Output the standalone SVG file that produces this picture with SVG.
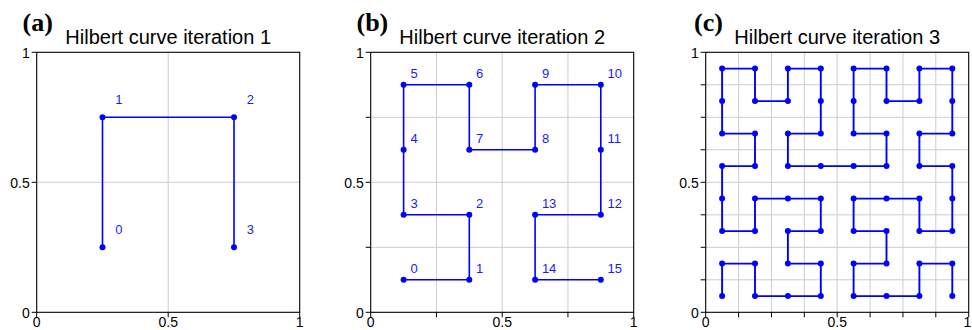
<svg xmlns="http://www.w3.org/2000/svg" width="972" height="330" viewBox="0 0 972 330">
<style>
.bg{fill:#ffffff}
.grid{stroke:#cccccc;stroke-width:1;fill:none}
.axis{stroke:#000000;stroke-width:1.1;fill:none}
.tick{stroke:#000000;stroke-width:1}
.tl{font-family:"Liberation Sans",Arial,sans-serif;font-size:14px;fill:#000000}
.tly{text-anchor:end}
.tlx{text-anchor:middle}
.title{font-family:"Liberation Sans",Arial,sans-serif;font-size:20px;fill:#000000;text-anchor:middle}
.plab{font-family:"Liberation Serif","Times New Roman",serif;font-size:26px;font-weight:bold;fill:#000000}
.curve{stroke:#0000ff;stroke-width:1.6;fill:none;stroke-linejoin:round}
.curve3{stroke:#0000ff;stroke-width:1.9;fill:none;stroke-linejoin:round}
.pt{fill:#0000ff}
.nl{font-family:"Liberation Sans",Arial,sans-serif;font-size:13px;fill:#1a1aff}
</style>
<rect class="bg" x="0" y="0" width="972" height="330"/>

<!-- Panel (a) -->
<g id="panel-a">
<text class="plab" x="22.5" y="31">(a)</text>
<text class="title" x="168.2" y="44">Hilbert curve iteration 1</text>
<g class="grid">
<line x1="168.2" y1="52.3" x2="168.2" y2="312.3"/>
<line x1="36.7" y1="182.3" x2="299.7" y2="182.3"/>
</g>
<rect class="axis" x="36.7" y="52.3" width="263" height="260"/>
<g class="tick">
<line x1="36.7" y1="312.3" x2="36.7" y2="317.3"/>
<line x1="168.2" y1="312.3" x2="168.2" y2="317.3"/>
<line x1="299.7" y1="312.3" x2="299.7" y2="317.3"/>
<line x1="31.7" y1="312.3" x2="36.7" y2="312.3"/>
<line x1="31.7" y1="182.3" x2="36.7" y2="182.3"/>
<line x1="31.7" y1="52.3" x2="36.7" y2="52.3"/>
</g>
<text class="tl tlx" x="36.7" y="327">0</text>
<text class="tl tlx" x="168.2" y="327">0.5</text>
<text class="tl tlx" x="299.7" y="327">1</text>
<text class="tl tly" x="29.7" y="317.8">0</text>
<text class="tl tly" x="29.7" y="187.8">0.5</text>
<text class="tl tly" x="29.7" y="57.8">1</text>
<g id="connectors-a">
<polyline class="curve" points="102.5,247.3 102.5,117.3 234,117.3 234,247.3"/>
</g>
<g id="a-n0"><circle class="pt" cx="102.5" cy="247.3" r="3"/><text class="nl" x="115.3" y="234.3">0</text></g>
<g id="a-n1"><circle class="pt" cx="102.5" cy="117.3" r="3"/><text class="nl" x="115.3" y="104.3">1</text></g>
<g id="a-n2"><circle class="pt" cx="234" cy="117.3" r="3"/><text class="nl" x="246.8" y="104.3">2</text></g>
<g id="a-n3"><circle class="pt" cx="234" cy="247.3" r="3"/><text class="nl" x="246.8" y="234.3">3</text></g>
</g>

<!-- Panel (b) -->
<g id="panel-b">
<text class="plab" x="356.5" y="31">(b)</text>
<text class="title" x="502.2" y="44">Hilbert curve iteration 2</text>
<g class="grid">
<line x1="436.45" y1="52.3" x2="436.45" y2="312.3"/>
<line x1="502.2" y1="52.3" x2="502.2" y2="312.3"/>
<line x1="567.95" y1="52.3" x2="567.95" y2="312.3"/>
<line x1="370.7" y1="247.3" x2="633.7" y2="247.3"/>
<line x1="370.7" y1="182.3" x2="633.7" y2="182.3"/>
<line x1="370.7" y1="117.3" x2="633.7" y2="117.3"/>
</g>
<rect class="axis" x="370.7" y="52.3" width="263" height="260"/>
<g class="tick">
<line x1="370.7" y1="312.3" x2="370.7" y2="317.3"/>
<line x1="436.45" y1="312.3" x2="436.45" y2="317.3"/>
<line x1="502.2" y1="312.3" x2="502.2" y2="317.3"/>
<line x1="567.95" y1="312.3" x2="567.95" y2="317.3"/>
<line x1="633.7" y1="312.3" x2="633.7" y2="317.3"/>
<line x1="365.7" y1="312.3" x2="370.7" y2="312.3"/>
<line x1="365.7" y1="247.3" x2="370.7" y2="247.3"/>
<line x1="365.7" y1="182.3" x2="370.7" y2="182.3"/>
<line x1="365.7" y1="117.3" x2="370.7" y2="117.3"/>
<line x1="365.7" y1="52.3" x2="370.7" y2="52.3"/>
</g>
<text class="tl tlx" x="370.7" y="327">0</text>
<text class="tl tlx" x="502.2" y="327">0.5</text>
<text class="tl tlx" x="633.7" y="327">1</text>
<text class="tl tly" x="363.7" y="317.8">0</text>
<text class="tl tly" x="363.7" y="187.8">0.5</text>
<text class="tl tly" x="363.7" y="57.8">1</text>
<g id="connectors-b">
<polyline class="curve" points="403.6,279.8 469.3,279.8 469.3,214.8 403.6,214.8 403.6,149.8 403.6,84.8 469.3,84.8 469.3,149.8 535.1,149.8 535.1,84.8 600.8,84.8 600.8,149.8 600.8,214.8 535.1,214.8 535.1,279.8 600.8,279.8"/>
</g>
<g id="b-n0"><circle class="pt" cx="403.6" cy="279.8" r="3"/><text class="nl" x="410.4" y="273.3">0</text></g>
<g id="b-n1"><circle class="pt" cx="469.3" cy="279.8" r="3"/><text class="nl" x="476.1" y="273.3">1</text></g>
<g id="b-n2"><circle class="pt" cx="469.3" cy="214.8" r="3"/><text class="nl" x="476.1" y="208.3">2</text></g>
<g id="b-n3"><circle class="pt" cx="403.6" cy="214.8" r="3"/><text class="nl" x="410.4" y="208.3">3</text></g>
<g id="b-n4"><circle class="pt" cx="403.6" cy="149.8" r="3"/><text class="nl" x="410.4" y="143.3">4</text></g>
<g id="b-n5"><circle class="pt" cx="403.6" cy="84.8" r="3"/><text class="nl" x="410.4" y="78.3">5</text></g>
<g id="b-n6"><circle class="pt" cx="469.3" cy="84.8" r="3"/><text class="nl" x="476.1" y="78.3">6</text></g>
<g id="b-n7"><circle class="pt" cx="469.3" cy="149.8" r="3"/><text class="nl" x="476.1" y="143.3">7</text></g>
<g id="b-n8"><circle class="pt" cx="535.1" cy="149.8" r="3"/><text class="nl" x="541.9" y="143.3">8</text></g>
<g id="b-n9"><circle class="pt" cx="535.1" cy="84.8" r="3"/><text class="nl" x="541.9" y="78.3">9</text></g>
<g id="b-n10"><circle class="pt" cx="600.8" cy="84.8" r="3"/><text class="nl" x="607.6" y="78.3">10</text></g>
<g id="b-n11"><circle class="pt" cx="600.8" cy="149.8" r="3"/><text class="nl" x="607.6" y="143.3">11</text></g>
<g id="b-n12"><circle class="pt" cx="600.8" cy="214.8" r="3"/><text class="nl" x="607.6" y="208.3">12</text></g>
<g id="b-n13"><circle class="pt" cx="535.1" cy="214.8" r="3"/><text class="nl" x="541.9" y="208.3">13</text></g>
<g id="b-n14"><circle class="pt" cx="535.1" cy="279.8" r="3"/><text class="nl" x="541.9" y="273.3">14</text></g>
<g id="b-n15"><circle class="pt" cx="600.8" cy="279.8" r="3"/><text class="nl" x="607.6" y="273.3">15</text></g>
</g>

<!-- Panel (c) -->
<g id="panel-c">
<text class="plab" x="694" y="31">(c)</text>
<text class="title" x="837.2" y="44">Hilbert curve iteration 3</text>
<g class="grid">
<line x1="738.6" y1="52.3" x2="738.6" y2="312.3"/>
<line x1="771.45" y1="52.3" x2="771.45" y2="312.3"/>
<line x1="804.3" y1="52.3" x2="804.3" y2="312.3"/>
<line x1="837.2" y1="52.3" x2="837.2" y2="312.3"/>
<line x1="870.1" y1="52.3" x2="870.1" y2="312.3"/>
<line x1="902.95" y1="52.3" x2="902.95" y2="312.3"/>
<line x1="935.8" y1="52.3" x2="935.8" y2="312.3"/>
<line x1="705.7" y1="279.8" x2="968.7" y2="279.8"/>
<line x1="705.7" y1="247.3" x2="968.7" y2="247.3"/>
<line x1="705.7" y1="214.8" x2="968.7" y2="214.8"/>
<line x1="705.7" y1="182.3" x2="968.7" y2="182.3"/>
<line x1="705.7" y1="149.8" x2="968.7" y2="149.8"/>
<line x1="705.7" y1="117.3" x2="968.7" y2="117.3"/>
<line x1="705.7" y1="84.8" x2="968.7" y2="84.8"/>
</g>
<rect class="axis" x="705.7" y="52.3" width="263" height="260"/>
<g class="tick">
<line x1="705.7" y1="312.3" x2="705.7" y2="317.3"/>
<line x1="738.6" y1="312.3" x2="738.6" y2="317.3"/>
<line x1="771.45" y1="312.3" x2="771.45" y2="317.3"/>
<line x1="804.3" y1="312.3" x2="804.3" y2="317.3"/>
<line x1="837.2" y1="312.3" x2="837.2" y2="317.3"/>
<line x1="870.1" y1="312.3" x2="870.1" y2="317.3"/>
<line x1="902.95" y1="312.3" x2="902.95" y2="317.3"/>
<line x1="935.8" y1="312.3" x2="935.8" y2="317.3"/>
<line x1="968.7" y1="312.3" x2="968.7" y2="317.3"/>
<line x1="700.7" y1="312.3" x2="705.7" y2="312.3"/>
<line x1="700.7" y1="279.8" x2="705.7" y2="279.8"/>
<line x1="700.7" y1="247.3" x2="705.7" y2="247.3"/>
<line x1="700.7" y1="214.8" x2="705.7" y2="214.8"/>
<line x1="700.7" y1="182.3" x2="705.7" y2="182.3"/>
<line x1="700.7" y1="149.8" x2="705.7" y2="149.8"/>
<line x1="700.7" y1="117.3" x2="705.7" y2="117.3"/>
<line x1="700.7" y1="84.8" x2="705.7" y2="84.8"/>
<line x1="700.7" y1="52.3" x2="705.7" y2="52.3"/>
</g>
<text class="tl tlx" x="705.7" y="327">0</text>
<text class="tl tlx" x="837.2" y="327">0.5</text>
<text class="tl tlx" x="967.5" y="327">1</text>
<text class="tl tly" x="698.7" y="317.8">0</text>
<text class="tl tly" x="698.7" y="187.8">0.5</text>
<text class="tl tly" x="698.7" y="57.8">1</text>
<g id="connectors-c">
<polyline class="curve3" points="722.1,296.1 722.1,263.6 755,263.6 755,296.1 787.9,296.1 820.8,296.1 820.8,263.6 787.9,263.6 787.9,231.1 820.8,231.1 820.8,198.6 787.9,198.6 755,198.6 755,231.1 722.1,231.1 722.1,198.6 722.1,166.1 755,166.1 755,133.6 722.1,133.6 722.1,101.1 722.1,68.6 755,68.6 755,101.1 787.9,101.1 787.9,68.6 820.8,68.6 820.8,101.1 820.8,133.6 787.9,133.6 787.9,166.1 820.8,166.1 853.6,166.1 886.5,166.1 886.5,133.6 853.6,133.6 853.6,101.1 853.6,68.6 886.5,68.6 886.5,101.1 919.4,101.1 919.4,68.6 952.3,68.6 952.3,101.1 952.3,133.6 919.4,133.6 919.4,166.1 952.3,166.1 952.3,198.6 952.3,231.1 919.4,231.1 919.4,198.6 886.5,198.6 853.6,198.6 853.6,231.1 886.5,231.1 886.5,263.6 853.6,263.6 853.6,296.1 886.5,296.1 919.4,296.1 919.4,263.6 952.3,263.6 952.3,296.1"/>
</g>
<g id="c-points" class="pt">
<circle cx="722.1" cy="296.1" r="3"/><circle cx="722.1" cy="263.6" r="3"/><circle cx="755" cy="263.6" r="3"/><circle cx="755" cy="296.1" r="3"/>
<circle cx="787.9" cy="296.1" r="3"/><circle cx="820.8" cy="296.1" r="3"/><circle cx="820.8" cy="263.6" r="3"/><circle cx="787.9" cy="263.6" r="3"/>
<circle cx="787.9" cy="231.1" r="3"/><circle cx="820.8" cy="231.1" r="3"/><circle cx="820.8" cy="198.6" r="3"/><circle cx="787.9" cy="198.6" r="3"/>
<circle cx="755" cy="198.6" r="3"/><circle cx="755" cy="231.1" r="3"/><circle cx="722.1" cy="231.1" r="3"/><circle cx="722.1" cy="198.6" r="3"/>
<circle cx="722.1" cy="166.1" r="3"/><circle cx="755" cy="166.1" r="3"/><circle cx="755" cy="133.6" r="3"/><circle cx="722.1" cy="133.6" r="3"/>
<circle cx="722.1" cy="101.1" r="3"/><circle cx="722.1" cy="68.6" r="3"/><circle cx="755" cy="68.6" r="3"/><circle cx="755" cy="101.1" r="3"/>
<circle cx="787.9" cy="101.1" r="3"/><circle cx="787.9" cy="68.6" r="3"/><circle cx="820.8" cy="68.6" r="3"/><circle cx="820.8" cy="101.1" r="3"/>
<circle cx="820.8" cy="133.6" r="3"/><circle cx="787.9" cy="133.6" r="3"/><circle cx="787.9" cy="166.1" r="3"/><circle cx="820.8" cy="166.1" r="3"/>
<circle cx="853.6" cy="166.1" r="3"/><circle cx="886.5" cy="166.1" r="3"/><circle cx="886.5" cy="133.6" r="3"/><circle cx="853.6" cy="133.6" r="3"/>
<circle cx="853.6" cy="101.1" r="3"/><circle cx="853.6" cy="68.6" r="3"/><circle cx="886.5" cy="68.6" r="3"/><circle cx="886.5" cy="101.1" r="3"/>
<circle cx="919.4" cy="101.1" r="3"/><circle cx="919.4" cy="68.6" r="3"/><circle cx="952.3" cy="68.6" r="3"/><circle cx="952.3" cy="101.1" r="3"/>
<circle cx="952.3" cy="133.6" r="3"/><circle cx="919.4" cy="133.6" r="3"/><circle cx="919.4" cy="166.1" r="3"/><circle cx="952.3" cy="166.1" r="3"/>
<circle cx="952.3" cy="198.6" r="3"/><circle cx="952.3" cy="231.1" r="3"/><circle cx="919.4" cy="231.1" r="3"/><circle cx="919.4" cy="198.6" r="3"/>
<circle cx="886.5" cy="198.6" r="3"/><circle cx="853.6" cy="198.6" r="3"/><circle cx="853.6" cy="231.1" r="3"/><circle cx="886.5" cy="231.1" r="3"/>
<circle cx="886.5" cy="263.6" r="3"/><circle cx="853.6" cy="263.6" r="3"/><circle cx="853.6" cy="296.1" r="3"/><circle cx="886.5" cy="296.1" r="3"/>
<circle cx="919.4" cy="296.1" r="3"/><circle cx="919.4" cy="263.6" r="3"/><circle cx="952.3" cy="263.6" r="3"/><circle cx="952.3" cy="296.1" r="3"/>
</g>
</g>
</svg>
